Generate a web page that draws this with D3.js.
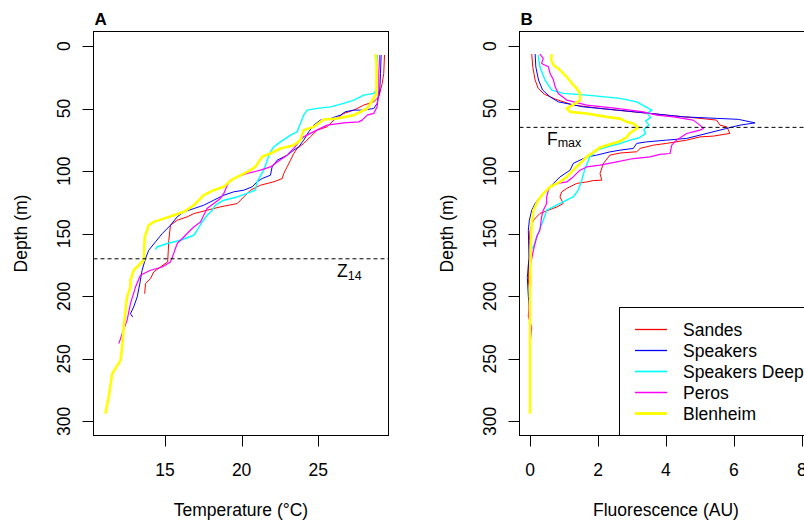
<!DOCTYPE html>
<html>
<head>
<meta charset="utf-8">
<script src="https://cdn.jsdelivr.net/npm/d3@7"></script>
<style>
  html, body { margin: 0; padding: 0; background: #fff; }
  svg { display: block; font-family: "Liberation Sans", Arial, Helvetica, sans-serif; }
</style>
</head>
<body>
<svg id="chart" width="804" height="523"></svg>
<script>
// ---------------- DATA ----------------
const seriesNames  = ["Sandes", "Speakers", "Speakers Deep", "Peros", "Blenheim"];
const seriesColors = ["#FF0000", "#0000FF", "#00FFFF", "#FF00FF", "#FFFF00"];

// Temperature profiles: [temperature (°C), depth (m)]
const tempSandes = [[29.32,7.2],[29.27,21.9],[29.17,29.9],[28.95,40.5],[28.62,44.5],[27.97,47.2],[27.32,51.2],[26.66,53.9],[26.01,59.2],[25.58,64.5],[24.93,67.2],[24.49,72.5],[24.05,77.9],[23.62,81.9],[23.40,85.9],[23.19,91.2],[22.97,96.5],[22.75,101.9],[22.65,105.9],[22.10,108.5],[21.23,111.2],[20.58,115.2],[20.36,117.9],[19.71,125.9],[18.62,128.5],[17.75,131.2],[16.88,133.9],[16.45,136.5],[15.80,139.2],[15.36,143.2],[15.25,155.2],[15.18,172.5],[14.71,176.5],[14.27,180.5],[14.05,185.9],[13.73,189.9],[13.68,197.9]];
const tempSpeakers = [[29.10,7.2],[29.06,21.9],[29.01,35.2],[28.84,45.8],[28.62,49.9],[27.97,51.2],[27.32,51.2],[26.77,52.5],[26.45,55.2],[25.80,57.9],[25.14,59.2],[24.71,63.2],[24.38,68.5],[24.05,75.2],[23.73,80.5],[23.40,83.2],[22.97,87.2],[22.32,91.2],[21.99,96.5],[21.88,103.2],[21.34,105.9],[21.01,108.5],[20.69,112.5],[20.14,115.2],[19.49,116.5],[18.84,119.2],[18.18,123.2],[17.53,127.2],[16.88,129.9],[16.23,132.5],[15.80,136.5],[15.36,143.2],[14.82,149.9],[14.38,156.5],[13.94,163.2],[13.73,169.9],[13.51,179.2],[13.36,189.9],[13.19,200.5],[12.96,208.5],[12.75,213.9],[12.90,216.5]];
const tempSpeakersDeep = [[28.84,7.2],[28.80,35.2],[28.62,37.8],[27.97,39.2],[27.32,43.2],[26.66,45.8],[25.80,48.6],[24.93,49.8],[24.28,51.2],[24.05,55.2],[23.84,61.8],[23.62,68.6],[23.19,71.2],[22.53,76.6],[22.10,80.6],[21.88,84.6],[21.67,91.2],[21.44,99.2],[21.01,108.6],[20.90,115.2],[20.36,117.8],[19.71,120.6],[18.84,123.2],[18.29,127.2],[18.08,131.2],[17.75,135.2],[17.43,140.6],[17.10,147.2],[16.88,151.2],[16.01,155.2],[15.14,157.8],[14.49,160.6],[14.38,162.6]];
const tempPeros = [[29.01,7.2],[28.95,21.9],[28.95,35.2],[28.84,48.6],[28.62,53.8],[28.19,55.2],[27.86,59.2],[27.64,60.6],[26.66,61.4],[25.58,63.2],[25.14,65.8],[24.49,69.8],[24.05,72.6],[23.73,76.6],[23.40,81.8],[22.97,87.2],[22.32,92.6],[21.88,96.6],[21.23,99.2],[20.36,101.8],[19.71,104.6],[19.27,107.2],[19.06,111.2],[18.84,117.8],[18.62,121.8],[18.18,125.8],[17.75,129.8],[17.53,135.2],[17.32,140.6],[16.88,144.6],[16.66,147.2],[16.23,152.6],[15.80,157.8],[15.57,165.8],[15.36,172.6],[14.82,176.6],[14.05,179.2],[13.40,183.2],[13.08,192.6],[12.75,205.8],[12.53,219.2],[12.21,229.8],[11.99,237.8]];
const tempBlenheim = [[28.73,6.4],[28.80,13.9],[28.80,37.9],[28.19,49.9],[27.32,55.2],[26.23,57.9],[25.36,58.7],[24.71,64.5],[24.05,67.2],[23.84,75.2],[23.40,79.2],[22.53,81.9],[21.88,85.9],[21.34,88.5],[21.12,92.5],[20.90,96.5],[20.58,99.2],[20.14,101.9],[19.49,105.9],[19.06,109.9],[18.84,112.5],[18.18,115.2],[17.53,119.2],[17.20,123.2],[16.88,127.2],[16.23,132.5],[15.57,135.2],[14.92,137.9],[14.27,140.5],[13.94,143.2],[13.84,147.2],[13.68,152.5],[13.62,171.2],[13.29,175.2],[12.96,179.2],[12.75,187.2],[12.75,192.5],[12.53,200.5],[12.31,224.5],[12.21,240.5],[12.10,251.2],[11.56,261.9],[11.33,280.5],[11.12,293.9]];

// Fluorescence profiles: [fluorescence (AU), depth (m)]
const fluorSandes = [[0.05,6.4],[0.08,16.6],[0.15,27.2],[0.24,33.8],[0.42,38.5],[0.75,42.5],[1.27,47.2],[2.06,49.8],[3.04,52.6],[4.02,55.2],[5.00,57.8],[5.49,59.2],[5.59,63.2],[5.79,64.6],[5.88,69.8],[5.39,72.0],[5.00,72.6],[4.61,75.2],[4.02,77.8],[3.63,79.2],[3.24,81.8],[3.14,84.5],[2.65,85.5],[2.35,87.2],[2.16,93.8],[2.06,101.8],[2.11,107.2],[1.86,107.5],[1.67,108.6],[1.37,109.8],[1.08,113.8],[0.93,116.6],[0.88,120.6],[0.98,125.8],[0.79,128.6],[0.54,131.2],[0.29,133.8],[0.10,139.2],[0.00,147.2],[-0.02,155.2],[0.00,165.0],[-0.05,175.0],[-0.05,187.0],[0.00,197.9]];
const fluorSpeakers = [[0.15,6.4],[0.17,16.6],[0.25,27.2],[0.37,35.2],[0.59,40.6],[0.83,44.6],[1.57,48.6],[2.55,51.2],[3.53,53.8],[4.51,56.6],[5.49,57.8],[6.13,58.6],[6.62,61.4],[6.18,63.2],[5.79,65.8],[5.00,71.2],[4.61,73.8],[4.02,75.2],[3.43,76.6],[3.14,77.8],[3.04,81.8],[2.65,83.2],[2.35,84.6],[1.96,87.2],[1.67,88.6],[1.47,91.2],[1.27,93.8],[1.18,99.2],[0.88,104.6],[0.69,109.8],[0.49,115.2],[0.29,120.6],[0.15,125.8],[0.05,131.2],[-0.02,139.2],[-0.05,147.2],[-0.03,170.0],[-0.08,185.0],[-0.05,200.0],[0.00,216.5]];
const fluorSpeakersDeep = [[0.24,7.2],[0.29,16.6],[0.44,27.2],[0.64,35.2],[0.98,37.8],[1.67,39.2],[2.65,41.8],[3.14,44.6],[3.58,51.2],[3.45,54.0],[3.55,57.0],[3.40,60.0],[3.50,63.0],[3.35,67.0],[3.40,70.0],[3.20,73.5],[2.94,75.2],[2.65,78.0],[2.35,80.0],[1.96,83.2],[1.76,88.6],[1.62,97.8],[1.52,107.2],[1.42,115.2],[1.27,120.6],[0.88,125.8],[0.69,128.6],[0.49,131.2],[0.39,139.2],[0.20,152.6],[0.10,160.6],[0.02,162.6]];
const fluorPeros = [[0.29,6.4],[0.39,9.9],[0.34,13.9],[0.54,16.6],[0.59,21.9],[0.69,27.2],[0.74,32.6],[0.83,37.9],[1.08,43.2],[1.67,47.2],[2.55,49.9],[3.33,52.6],[3.73,55.2],[4.22,56.6],[4.80,59.2],[5.00,63.2],[5.10,65.9],[5.00,67.2],[4.80,68.6],[4.61,69.9],[4.31,75.2],[4.17,79.2],[4.12,85.9],[3.82,86.6],[3.53,88.6],[3.04,89.9],[2.55,92.6],[2.06,95.2],[1.67,96.6],[1.47,99.2],[1.27,104.6],[1.08,108.6],[0.79,109.9],[0.59,112.6],[0.54,115.2],[0.49,120.6],[0.49,125.9],[0.39,131.2],[0.34,136.6],[0.29,147.2],[0.20,152.0],[0.10,163.0],[0.00,176.6],[0.02,190.0],[-0.05,216.0],[0.05,225.0],[0.00,237.8]];
const fluorBlenheim = [[0.64,6.4],[0.62,11.0],[0.69,15.2],[0.88,19.2],[1.08,24.6],[1.23,29.8],[1.37,33.8],[1.47,37.8],[1.47,43.2],[1.30,46.5],[1.08,49.9],[1.18,52.6],[1.67,53.9],[2.25,56.6],[2.65,58.0],[2.84,60.6],[3.04,62.0],[3.19,65.1],[2.94,69.5],[2.84,73.0],[2.65,76.0],[2.35,78.5],[2.06,81.0],[1.86,85.0],[1.67,88.6],[1.47,93.9],[1.27,99.2],[1.08,104.6],[0.88,108.6],[0.59,112.6],[0.39,117.9],[0.24,123.2],[0.10,131.2],[0.05,141.9],[0.02,160.0],[0.00,200.0],[0.00,250.0],[0.00,293.9]];

const depthTicks = [0, 50, 100, 150, 200, 250, 300];
const tempTicks  = [15, 20, 25];
const fluorTicks = [0, 2, 4, 6, 8];
const z14Depth  = 170;
const fmaxDepth = 65;

// ---------------- LAYOUT ----------------
const svg = d3.select("#chart");
svg.append("rect").attr("width", 804).attr("height", 523).attr("fill", "#fff");

const FS = 17.5;
const seriesWidths = [1, 1, 1.4, 1.2, 2.6];
const tempSeries  = [tempSandes, tempSpeakers, tempSpeakersDeep, tempPeros, tempBlenheim];
const fluorSeries = [fluorSandes, fluorSpeakers, fluorSpeakersDeep, fluorPeros, fluorBlenheim];

const plotTop = 31.5, plotBottom = 435.5;
const y = d3.scaleLinear().domain([-11.6, 311.2]).range([plotTop, plotBottom]);

function panel(opts) {
  const g = svg.append("g");
  const x = d3.scaleLinear().domain(opts.xDomain).range(opts.xRange);
  const left = opts.xRange[0], right = opts.xRange[1];

  const clipId = "clip" + opts.title;
  svg.append("clipPath").attr("id", clipId)
    .append("rect").attr("x", left).attr("y", plotTop).attr("width", right - left).attr("height", plotBottom - plotTop);

  const lines = g.append("g").attr("clip-path", `url(#${clipId})`);
  const line = d3.line().x(d => x(d[0])).y(d => y(d[1]));
  opts.series.forEach((s, i) => {
    lines.append("path").datum(s)
      .attr("d", line)
      .attr("fill", "none")
      .attr("stroke", seriesColors[i])
      .attr("stroke-width", seriesWidths[i])
      .attr("stroke-linejoin", "round");
  });

  // dashed reference line
  lines.append("line")
    .attr("x1", left).attr("x2", right)
    .attr("y1", y(opts.refDepth)).attr("y2", y(opts.refDepth))
    .attr("stroke", "#000").attr("stroke-width", 1).attr("stroke-dasharray", "4,3");

  // box
  g.append("rect").attr("x", left).attr("y", plotTop)
    .attr("width", right - left).attr("height", plotBottom - plotTop)
    .attr("fill", "none").attr("stroke", "#000").attr("stroke-width", 1);

  // y axis ticks and labels
  depthTicks.forEach(t => {
    const yy = Math.round(y(t)) + 0.5;
    g.append("line").attr("x1", left - 11).attr("x2", left).attr("y1", yy).attr("y2", yy)
      .attr("stroke", "#000");
    g.append("text").attr("transform", `translate(${left - 24},${y(t)}) rotate(-90)`)
      .attr("text-anchor", "middle").attr("font-size", FS).text(t);
  });
  // x axis ticks and labels
  opts.xTicks.forEach(t => {
    const xx = Math.round(x(t)) + 0.5;
    g.append("line").attr("x1", xx).attr("x2", xx).attr("y1", plotBottom).attr("y2", plotBottom + 11)
      .attr("stroke", "#000");
    g.append("text").attr("x", x(t)).attr("y", 475.5)
      .attr("text-anchor", "middle").attr("font-size", FS).text(t);
  });

  // axis titles
  g.append("text").attr("x", opts.xTitleX).attr("y", 516)
    .attr("text-anchor", "middle").attr("font-size", FS).text(opts.xTitle);
  g.append("text").attr("transform", `translate(${left - 67},${(plotTop + plotBottom) / 2}) rotate(-90)`)
    .attr("text-anchor", "middle").attr("font-size", FS).text("Depth (m)");

  // panel title
  g.append("text").attr("x", left + 1).attr("y", 25)
    .attr("font-size", 17).attr("font-weight", "bold").text(opts.title);

  return { g, x };
}

// Panel A
const A = panel({
  title: "A",
  xDomain: [10.34, 29.58], xRange: [93.5, 388.5],
  series: tempSeries, xTicks: tempTicks, refDepth: z14Depth,
  xTitle: "Temperature (°C)", xTitleX: 241
});
const zt = A.g.append("text").attr("x", 337).attr("y", y(z14Depth) + 18).attr("font-size", 17.5);
zt.append("tspan").text("Z");
zt.append("tspan").attr("font-size", 12.5).attr("dy", 3).text("14");

// Panel B
const B = panel({
  title: "B",
  xDomain: [-0.31, 8.4], xRange: [519.5, 815.5],
  series: fluorSeries, xTicks: fluorTicks, refDepth: fmaxDepth,
  xTitle: "Fluorescence (AU)", xTitleX: 666
});
const ft = B.g.append("text").attr("x", 547).attr("y", y(fmaxDepth) + 18).attr("font-size", 17.5);
ft.append("tspan").text("F");
ft.append("tspan").attr("font-size", 12.5).attr("dy", 2).text("max");

// Legend
const leg = B.g.append("g");
leg.append("rect").attr("x", 619.5).attr("y", 307.5).attr("width", 200).attr("height", 128)
  .attr("fill", "#fff").attr("stroke", "#000");
const legY = [329.5, 350.5, 371.5, 392.5, 413.5];
seriesNames.forEach((name, i) => {
  leg.append("line").attr("x1", 635).attr("x2", 667).attr("y1", legY[i]).attr("y2", legY[i])
    .attr("stroke", seriesColors[i]).attr("stroke-width", seriesWidths[i] + 0.3);
  leg.append("text").attr("x", 683).attr("y", legY[i] + 6).attr("font-size", FS).text(name);
});
</script>
</body>
</html>
